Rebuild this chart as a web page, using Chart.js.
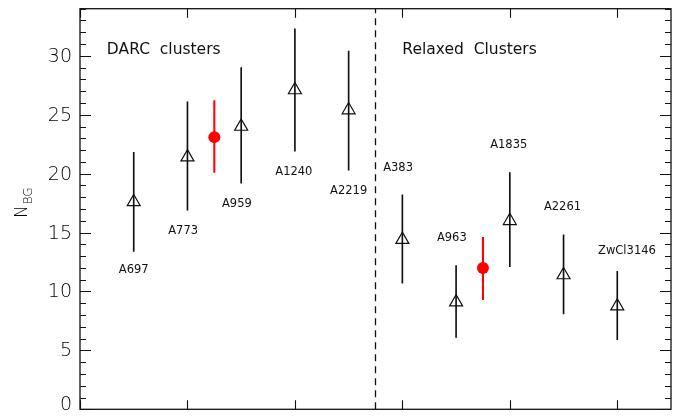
<!DOCTYPE html>
<html>
<head>
<meta charset="utf-8">
<script src="https://cdn.jsdelivr.net/npm/chart.js@4.4.1/dist/chart.umd.min.js"></script>
<style>
  html, body { margin: 0; padding: 0; background: #fff; }
  #wrap { width: 691px; height: 418px; }
  canvas { display: block; }
</style>
</head>
<body>
<div id="wrap"><canvas id="c" width="691" height="418"></canvas></div>
<script>
// individual clusters (open triangles)
const clusters = ["A697", "A773", "A959", "A1240", "A2219", "A383", "A963", "A1835", "A2261", "ZwCl3146"];
const clusterX = [0.5, 1, 1.5, 2, 2.5, 3, 3.5, 4, 4.5, 5];
const nbg = [17.6, 21.4, 24.0, 27.1, 25.4, 14.4, 9.1, 16.0, 11.4, 8.75];
const nbgLo = [13.4, 16.9, 19.2, 21.9, 20.3, 10.7, 6.1, 12.1, 8.1, 5.9];
const nbgHi = [21.8, 26.1, 29.0, 32.3, 30.4, 18.2, 12.2, 20.1, 14.8, 11.7];
// where each cluster name sits
const labelX = [0.5, 0.96, 1.46, 1.99, 2.5, 2.96, 3.46, 3.99, 4.49, 5.09];
const labelY = [11.8, 15.1, 17.4, 20.1, 18.5, 20.5, 14.5, 22.4, 17.2, 13.4];

// group means (red)
const avgX = [1.25, 3.75];
const avgNbg = [23.1, 12.0];
const avgLo = [20.1, 9.3];
const avgHi = [26.2, 14.6];

const dividerX = 2.75;
const groupTitles = ["DARC  clusters", "Relaxed  Clusters"];
const groupTitleX = [0.25, 3.0];
const groupTitleY = 30.5;
const yTicks = [0, 5, 10, 15, 20, 25, 30];
const xTicks = [0, 1, 2, 3, 4, 5];

const INK = "#111";

const framePlugin = {
  id: "idlFrame",
  afterDraw(chart) {
    const { ctx, chartArea: a, scales } = chart;
    const xs = scales.x, ys = scales.y;
    ctx.save();
    ctx.strokeStyle = INK;
    ctx.lineWidth = 1.3;
    ctx.strokeRect(a.left, a.top, a.right - a.left, a.bottom - a.top);

    // y ticks, inward on both sides
    ctx.lineWidth = 1.1;
    for (let v = Math.ceil(ys.min); v <= ys.max; v++) {
      const y = Math.round(ys.getPixelForValue(v)) + 0.5;
      const len = v % 5 === 0 ? 11 : 6;
      ctx.beginPath();
      ctx.moveTo(a.left, y); ctx.lineTo(a.left + len, y);
      ctx.moveTo(a.right, y); ctx.lineTo(a.right - len, y);
      ctx.stroke();
    }
    // x ticks, inward top and bottom
    xTicks.forEach((v) => {
      const x = Math.round(xs.getPixelForValue(v)) + 0.5;
      ctx.beginPath();
      ctx.moveTo(x, a.bottom); ctx.lineTo(x, a.bottom - 9);
      ctx.moveTo(x, a.top); ctx.lineTo(x, a.top + 9);
      ctx.stroke();
    });

    // y tick labels
    ctx.fillStyle = "#000";
    ctx.font = "200 19px 'DejaVu Sans'";
    ctx.textAlign = "right";
    ctx.textBaseline = "middle";
    yTicks.forEach((v) => {
      const y = Math.min(ys.getPixelForValue(v) + 1, a.bottom - 4);
      ctx.fillText(String(v), a.left - 8, y);
    });

    // axis title N_BG (rotated)
    ctx.save();
    ctx.translate(27, 218);
    ctx.rotate(-Math.PI / 2);
    ctx.textAlign = "left";
    ctx.textBaseline = "alphabetic";
    ctx.font = "200 17px 'DejaVu Sans'";
    ctx.fillText("N", 0, 0);
    const nw = ctx.measureText("N").width;
    ctx.font = "200 12px 'DejaVu Sans'";
    ctx.fillText("BG", nw + 1, 5);
    ctx.restore();

    // cluster names
    ctx.fillStyle = INK;
    ctx.font = "11.5px 'DejaVu Sans'";
    ctx.textAlign = "center";
    ctx.textBaseline = "middle";
    clusters.forEach((name, i) => {
      ctx.fillText(name, xs.getPixelForValue(labelX[i]), ys.getPixelForValue(labelY[i]));
    });

    // group titles
    ctx.font = "15.5px 'DejaVu Sans'";
    ctx.textAlign = "left";
    groupTitles.forEach((t, i) => {
      ctx.fillText(t, xs.getPixelForValue(groupTitleX[i]), ys.getPixelForValue(groupTitleY));
    });
    ctx.restore();
  },
};

new Chart(document.getElementById("c"), {
  data: {
    datasets: [
      {
        type: "scatter",
        order: 0,
        data: clusterX.map((x, i) => ({ x, y: nbg[i] })),
        pointStyle: "triangle",
        pointRadius: 7.5,
        backgroundColor: "rgba(0,0,0,0)",
        borderColor: INK,
        borderWidth: 1.2,
      },
      {
        type: "scatter",
        order: 0,
        data: avgX.map((x, i) => ({ x, y: avgNbg[i] })),
        pointStyle: "circle",
        pointRadius: 6,
        backgroundColor: "#ff0000",
        borderColor: "#ff0000",
        borderWidth: 0,
      },
      {
        type: "bar",
        order: 1,
        grouped: false,
        barThickness: 1,
        data: clusterX.map((x, i) => ({ x, y: [nbgLo[i], nbgHi[i]] })),
        backgroundColor: INK,
        borderWidth: 0,
      },
      {
        type: "bar",
        order: 1,
        grouped: false,
        barThickness: 1.4,
        data: avgX.map((x, i) => ({ x, y: [avgLo[i], avgHi[i]] })),
        backgroundColor: "#ff0000",
        borderWidth: 0,
      },
      {
        type: "line",
        order: 2,
        data: [{ x: dividerX, y: 0 }, { x: dividerX, y: 34 }],
        borderColor: INK,
        borderWidth: 1.3,
        borderDash: [7, 5],
        pointRadius: 0,
      },
    ],
  },
  options: {
    responsive: false,
    animation: false,
    devicePixelRatio: 1,
    layout: { padding: { left: 80, right: 20, top: 2, bottom: 2 } },
    plugins: { legend: { display: false }, tooltip: { enabled: false } },
    scales: {
      x: { type: "linear", min: 0, max: 5.5, offset: false, display: false },
      y: { type: "linear", min: 0, max: 34, display: false },
    },
  },
  plugins: [framePlugin],
});
</script>
</body>
</html>
